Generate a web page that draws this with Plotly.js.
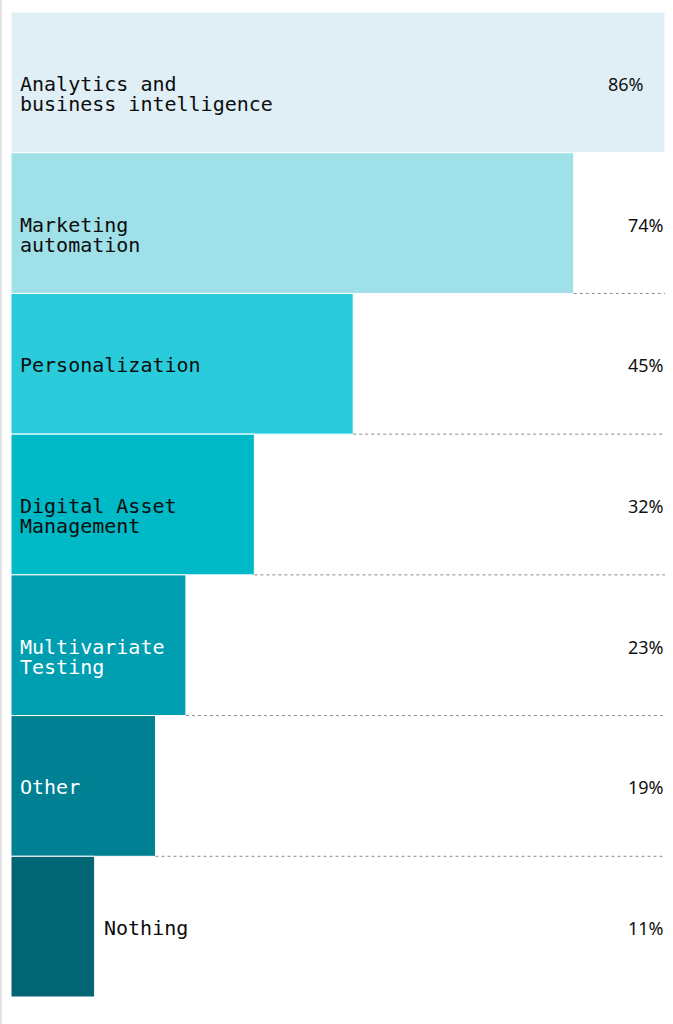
<!DOCTYPE html>
<html>
<head>
<meta charset="utf-8">
<script src="https://cdn.plot.ly/plotly-3.0.1.min.js"></script>
<style>
html,body{margin:0;padding:0;background:#fff;}
#wrap{position:relative;width:673px;height:1024px;}
#edge{position:absolute;left:0;top:0;width:2px;height:1024px;background:#e4e4e4;}
#chart{width:673px;height:1024px;}
</style>
</head>
<body>
<div id="wrap"><div id="chart"></div><div id="edge"></div></div>
<script>
// ---- data ----
const categories = [
  "Analytics and\nbusiness intelligence",
  "Marketing\nautomation",
  "Personalization",
  "Digital Asset\nManagement",
  "Multivariate\nTesting",
  "Other",
  "Nothing"
];
const values = [86, 74, 45, 32, 23, 19, 11];
const valueLabels = ["86%", "74%", "45%", "32%", "23%", "19%", "11%"];
const barColors = ["#E0EFF6", "#A0E0E8", "#2ACCDB", "#00B9C6", "#009EB1", "#008193", "#026574"];
const labelColors = ["#0d0d0d", "#0d0d0d", "#0d0d0d", "#0d0d0d", "#ffffff", "#ffffff", "#0d0d0d"];

// ---- build ----
const xMax = Math.max(...values);
const monoFont = "DejaVu Sans Mono, monospace";
const sansFont = "Noto Sans, Open Sans, sans-serif";
const lineGap = 20;
const insideMin = 15; // bars shorter than this get their label outside

const trace = {
  type: "bar",
  orientation: "h",
  y: categories.map((c, i) => i),
  x: values,
  marker: {color: barColors, line: {color: "#ffffff", width: 1}},
  hoverinfo: "none",
  showlegend: false
};

const annotations = [];
categories.forEach((c, i) => {
  const lines = c.split("\n");
  const outside = values[i] < insideMin;
  lines.forEach((ln, j) => {
    annotations.push({
      x: outside ? values[i] : 0, y: i, xref: "x", yref: "y",
      xanchor: "left", yanchor: "middle",
      xshift: 7, yshift: -j * lineGap - 1.5,
      text: ln, showarrow: false,
      font: {family: monoFont, size: 20, color: outside ? "#0d0d0d" : labelColors[i]}
    });
  });
  annotations.push({
    x: xMax, y: i, xref: "x", yref: "y",
    xanchor: "right", yanchor: "middle",
    xshift: values[i] === xMax ? -19 : 1, yshift: -1.5,
    text: valueLabels[i], showarrow: false,
    font: {family: sansFont, size: 18, color: "#111111"}
  });
});

const shapes = [];
for (let i = 0; i < values.length - 1; i++) {
  if (values[i] < xMax) {
    shapes.push({
      type: "line", xref: "x", yref: "y",
      x0: values[i], x1: xMax, y0: i + 0.5, y1: i + 0.5,
      line: {color: "#8a8a8a", width: 1, dash: "dot"}
    });
  }
}

const layout = {
  width: 673, height: 1024,
  margin: {l: 11, r: 8, t: 12, b: 27, pad: 0},
  paper_bgcolor: "#ffffff", plot_bgcolor: "#ffffff",
  bargap: 0,
  xaxis: {range: [0, xMax], visible: false, fixedrange: true},
  yaxis: {range: [values.length - 0.5, -0.5], visible: false, fixedrange: true},
  annotations: annotations,
  shapes: shapes
};

Plotly.newPlot("chart", [trace], layout, {displayModeBar: false, staticPlot: true});
</script>
</body>
</html>
